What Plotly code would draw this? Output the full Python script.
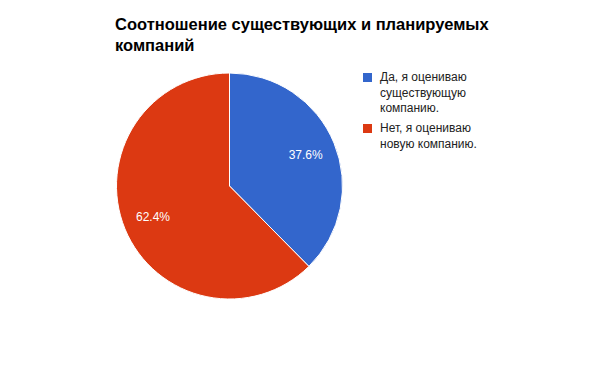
import plotly.graph_objects as go

labels = ["Да, я оцениваю<br>существующую<br>компанию.", "Нет, я оцениваю<br>новую компанию."]
values = [37.6, 62.4]
colors = ["#3366CC", "#DC3912"]

W, H = 600, 371
dom = dict(x=[116 / W, 343 / W], y=[1 - 299 / H, 1 - 73 / H])
font_fam = "Liberation Sans, Arial"

# base pie: filled slices
base = go.Pie(
    labels=labels, values=values, sort=False, direction="clockwise", rotation=0,
    marker=dict(colors=colors, line=dict(color="white", width=1)),
    textinfo="none", hoverinfo="label+percent", domain=dom, showlegend=False,
)
# label carrier: same slices, transparent ring, so percent labels sit farther out
lab = go.Pie(
    labels=labels, values=values, sort=False, direction="clockwise", rotation=0,
    hole=0.46,
    marker=dict(colors=["rgba(0,0,0,0)"] * len(values), line=dict(width=0)),
    texttemplate="%{percent:.1%}", textposition="inside",
    insidetextorientation="horizontal",
    insidetextfont=dict(color="white", size=12, family=font_fam),
    hoverinfo="skip", showlegend=False, domain=dom,
)
fig = go.Figure([base, lab])

# legend (Google-chart style: small square + wrapped label)
leg_x_sq = 363
leg_x_txt = 378
leg_tops = [73, 124]
for lbl, col, top in zip(labels, colors, leg_tops):
    fig.add_shape(
        type="rect", xref="paper", yref="paper",
        x0=leg_x_sq / W, x1=(leg_x_sq + 9) / W,
        y0=1 - top / H, y1=1 - (top + 9) / H,
        fillcolor=col, line=dict(width=0),
    )
    fig.add_annotation(
        text=lbl, xref="paper", yref="paper",
        x=leg_x_txt / W, y=1 - (top - 5) / H,
        xanchor="left", yanchor="top", align="left", showarrow=False,
        font=dict(size=12, color="#222222", family=font_fam),
    )

fig.update_layout(
    width=W, height=H,
    margin=dict(l=0, r=0, t=0, b=0),
    paper_bgcolor="white",
    font=dict(family=font_fam, color="#222222"),
    title=dict(
        text="<b>Соотношение существующих и планируемых<br>компаний</b>",
        font=dict(size=16.5, color="#000000", family=font_fam),
        xref="container", yref="container",
        x=115 / W, xanchor="left",
        y=1 - 30 / H, yanchor="top",
    ),
    showlegend=False,
)
fig.write_html("out.html", config={"displayModeBar": False},
               post_script="document.body.style.margin='0px';")
